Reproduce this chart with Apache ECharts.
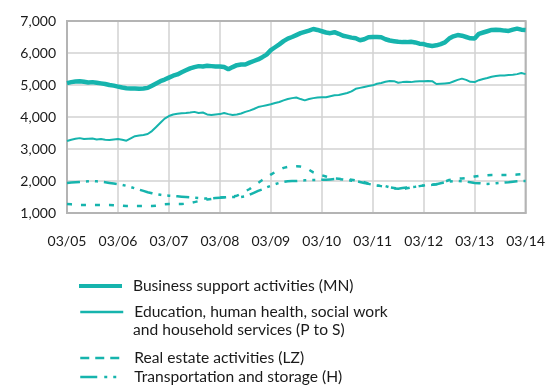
<!DOCTYPE html>
<html>
<head>
<meta charset="utf-8">
<script src="https://cdn.jsdelivr.net/npm/echarts@6/dist/echarts.min.js"></script>
<style>
  html, body { margin: 0; padding: 0; background: #ffffff; }
  #chart { width: 548px; height: 385px; }
</style>
</head>
<body>
<div id="chart"></div>
<script>
// Monthly series, March 2005 to March 2014
const months = [];
for (let y = 5; y <= 14; y++) {
  for (let m = 1; m <= 12; m++) {
    if ((y === 5 && m < 3) || (y === 14 && m > 3)) continue;
    months.push(String(m).padStart(2, '0') + '/' + String(y).padStart(2, '0'));
  }
}

const seriesNames = [
  'Business support activities (MN)',
  'Education, human health, social work and household services (P to S)',
  'Real estate activities (LZ)',
  'Transportation and storage (H)'
];
// the long legend entry wraps onto a second line
const educationLabelLines = [
  'Education, human health, social work',
  'and household services (P to S)'
];

const businessSupport = [
  5060,5090,5110,5120,5100,5080,5090,5070,5050,5030,5000,4980,
  4950,4920,4900,4890,4890,4880,4890,4910,4980,5050,5120,5170,
  5230,5290,5330,5400,5460,5520,5560,5590,5580,5600,5590,5580,
  5580,5560,5490,5560,5620,5640,5640,5700,5750,5800,5870,5950,
  6090,6180,6270,6370,6450,6500,6560,6620,6660,6700,6750,6720,
  6680,6640,6620,6650,6600,6540,6510,6480,6460,6400,6430,6490,
  6500,6500,6490,6430,6390,6370,6350,6340,6340,6350,6330,6290,
  6280,6240,6220,6240,6280,6330,6450,6520,6560,6540,6500,6460,
  6450,6600,6640,6680,6720,6730,6720,6700,6690,6730,6760,6730,6720
];

const educationHealth = [
  3250,3290,3320,3340,3310,3320,3330,3300,3310,3290,3280,3300,
  3310,3290,3260,3330,3400,3420,3440,3470,3560,3690,3820,3950,
  4030,4080,4100,4120,4125,4140,4160,4125,4140,4080,4060,4080,
  4090,4125,4090,4060,4080,4110,4160,4200,4250,4310,4340,4370,
  4400,4440,4470,4520,4560,4590,4610,4560,4520,4560,4590,4610,
  4620,4620,4650,4680,4690,4720,4750,4800,4880,4910,4940,4970,
  4990,5040,5060,5100,5125,5120,5070,5090,5100,5090,5110,5120,
  5120,5125,5120,5030,5040,5050,5060,5110,5160,5200,5160,5100,
  5090,5150,5190,5220,5260,5280,5300,5300,5310,5320,5340,5375,5340
];

const realEstate = [
  1280,1270,1260,1250,1250,1250,1250,1250,1250,1250,1250,1240,
  1230,1230,1220,1220,1220,1220,1220,1220,1220,1230,1250,1270,
  1280,1280,1280,1280,1290,1310,1340,1370,1400,1420,1440,1460,
  1480,1490,1500,1510,1540,1600,1680,1750,1850,1940,2030,2110,
  2200,2280,2350,2410,2440,2460,2460,2450,2420,2350,2270,2220,
  2180,2140,2100,2080,2070,2060,2050,2040,2020,2000,1960,1920,
  1880,1860,1840,1820,1800,1780,1760,1750,1770,1800,1820,1840,
  1860,1870,1880,1900,1940,1980,2030,2050,2070,2080,2090,2110,
  2140,2160,2170,2180,2190,2190,2190,2190,2190,2190,2200,2210,2220
];

const transportStorage = [
  1940,1950,1960,1970,1980,1990,2000,1990,1980,1960,1940,1920,
  1900,1880,1850,1810,1770,1730,1690,1650,1620,1590,1570,1550,
  1540,1530,1520,1510,1500,1490,1480,1470,1460,1450,1460,1470,
  1480,1490,1500,1500,1500,1500,1520,1570,1630,1690,1740,1800,
  1850,1900,1940,1970,1990,2000,2000,2010,2020,2030,2030,2030,
  2040,2040,2050,2060,2060,2050,2030,2010,2000,1970,1940,1910,
  1880,1860,1850,1840,1800,1770,1760,1780,1800,1810,1820,1840,
  1860,1870,1880,1900,1930,1960,1980,1990,2000,1990,1980,1960,
  1940,1930,1920,1910,1920,1930,1940,1950,1960,1980,1990,2000,2000
];

const yTicks = [1000, 2000, 3000, 4000, 5000, 6000, 7000];

const TEAL = '#16b4ad';
const TEXT = '#1a1a1a';
const FONT = 'Lato, "Open Sans", sans-serif';
const LEGEND_FONT_SIZE = 15.6;

function lineSeries(name, data, width, type) {
  return {
    name: name,
    type: 'line',
    data: data,
    symbol: 'none',
    smooth: false,
    lineStyle: { color: TEAL, width: width, type: type, cap: 'butt' },
    itemStyle: { color: TEAL },
    emphasis: { disabled: true }
  };
}

function legendFor(name, left, top, iconWidth, iconDash, formatter) {
  const lg = {
    data: [name],
    left: left,
    top: top,
    itemWidth: 43,
    itemHeight: 14,
    itemStyle: { opacity: 0 },
    lineStyle: { color: TEAL, width: iconWidth, type: iconDash, cap: 'butt' },
    textStyle: {
      color: TEXT,
      fontFamily: FONT,
      fontSize: LEGEND_FONT_SIZE,
      padding: [0, 0, 0, 6]
    }
  };
  if (formatter) lg.formatter = formatter;
  return lg;
}

const chart = echarts.init(document.getElementById('chart'), null, { renderer: 'canvas' });

chart.setOption({
  animation: false,
  backgroundColor: '#ffffff',
  grid: { left: 67, right: 20, top: 21, bottom: 172, containLabel: false },
  xAxis: {
    type: 'category',
    data: months,
    boundaryGap: false,
    axisLine: { show: true, lineStyle: { color: '#b4b4b4', width: 2 } },
    axisTick: { show: false },
    axisLabel: {
      interval: 11,
      color: TEXT,
      fontFamily: FONT,
      fontSize: 14,
      margin: 21,
      showMaxLabel: true
    },
    splitLine: {
      show: true,
      interval: 11,
      lineStyle: { color: '#d2d2d2', width: 1.5 }
    }
  },
  yAxis: {
    type: 'value',
    min: yTicks[0],
    max: yTicks[yTicks.length - 1],
    interval: 1000,
    axisLine: { show: true, lineStyle: { color: '#b4b4b4', width: 2 } },
    axisTick: { show: false },
    axisLabel: {
      color: TEXT,
      fontFamily: FONT,
      fontSize: 14,
      margin: 11,
      formatter: v => v.toLocaleString('en-US')
    },
    splitLine: { show: true, lineStyle: { color: '#d2d2d2', width: 1.5 } }
  },
  legend: [
    legendFor(seriesNames[0], 72, 273, 4, 'solid'),
    legendFor(seriesNames[1], 74, 299, 2.5, 'solid', () => educationLabelLines[0]),
    legendFor(seriesNames[2], 74, 345, 2.5, [9, 6]),
    legendFor(seriesNames[3], 74, 364, 2.5, [17, 7, 3, 6, 3, 7])
  ],
  series: [
    lineSeries(seriesNames[0], businessSupport, 4.5, 'solid'),
    lineSeries(seriesNames[1], educationHealth, 2, 'solid'),
    lineSeries(seriesNames[2], realEstate, 2.5, [5, 9]),
    lineSeries(seriesNames[3], transportStorage, 2.5, [13, 6, 3, 6, 3, 6])
  ]
});

// frame around the plot area and the wrapped second legend line
const rect = chart.getModel().getComponent('grid').coordinateSystem.getRect();
chart.setOption({
  graphic: [{
    type: 'rect',
    shape: { x: rect.x, y: rect.y, width: rect.width, height: rect.height },
    style: { fill: 'none', stroke: '#b4b4b4', lineWidth: 2 },
    silent: true,
    z: 1
  }, {
    type: 'text',
    left: 133,
    top: 322,
    style: {
      text: educationLabelLines[1],
      fill: TEXT,
      font: LEGEND_FONT_SIZE + 'px ' + FONT
    },
    silent: true
  }]
});
</script>
</body>
</html>
